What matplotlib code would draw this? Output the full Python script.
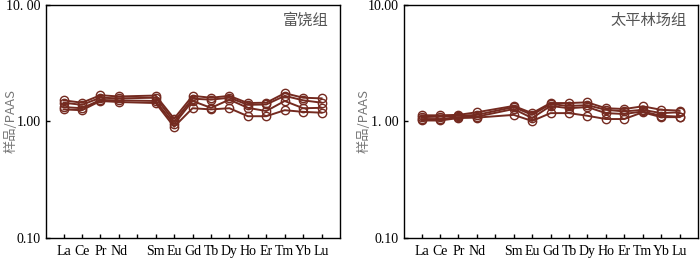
import matplotlib
matplotlib.use("Agg")
import matplotlib.pyplot as plt
import numpy as np

elements = ["La", "Ce", "Pr", "Nd", "Pm", "Sm", "Eu", "Gd", "Tb", "Dy", "Ho", "Er", "Tm", "Yb", "Lu"]
tick_labels = ["La", "Ce", "Pr", "Nd", "", "Sm", "Eu", "Gd", "Tb", "Dy", "Ho", "Er", "Tm", "Yb", "Lu"]

# Values (Pm missing -> NaN), left panel: 富饶组
fr_s1 = [1.52, 1.45, 1.68, 1.64, np.nan, 1.67, 1.06, 1.66, 1.60, 1.66, 1.44, 1.45, 1.75, 1.60, 1.58]
fr_s2 = [1.45, 1.39, 1.60, 1.58, np.nan, 1.60, 1.00, 1.57, 1.54, 1.60, 1.39, 1.40, 1.66, 1.52, 1.45]
fr_s3 = [1.33, 1.30, 1.53, 1.52, np.nan, 1.50, 0.95, 1.50, 1.31, 1.54, 1.31, 1.23, 1.50, 1.30, 1.31]
fr_s4 = [1.27, 1.25, 1.50, 1.47, np.nan, 1.44, 0.90, 1.30, 1.27, 1.30, 1.11, 1.11, 1.25, 1.21, 1.19]

# right panel: 太平林场组
tp_s1 = [1.13, 1.13, 1.14, 1.20, np.nan, 1.36, 1.18, 1.44, 1.44, 1.46, 1.30, 1.28, 1.35, 1.26, 1.24]
tp_s2 = [1.09, 1.10, 1.12, 1.14, np.nan, 1.33, 1.14, 1.41, 1.36, 1.38, 1.26, 1.22, 1.26, 1.18, 1.20]
tp_s3 = [1.05, 1.05, 1.09, 1.10, np.nan, 1.28, 1.07, 1.36, 1.30, 1.33, 1.18, 1.16, 1.22, 1.12, 1.10]
tp_s4 = [1.02, 1.02, 1.07, 1.08, np.nan, 1.14, 1.01, 1.18, 1.18, 1.12, 1.05, 1.05, 1.20, 1.09, 1.09]

panels = [
    ("富饶组", [fr_s1, fr_s2, fr_s3, fr_s4], ["0.10", "1.00", "10. 00"], -0.097),
    ("太平林场组", [tp_s1, tp_s2, tp_s3, tp_s4], ["0.10", "1. 00", "10.00"], -0.115),
]

color = "#742a20"
serif = ["Liberation Serif", "DejaVu Serif"]
cjk = ["Noto Sans CJK SC", "DejaVu Sans"]

fig = plt.figure(figsize=(7.0, 2.58), dpi=100)
rects = [
    [46 / 700, 1 - 238 / 258, (340 - 46) / 700, (238 - 5) / 258],
    [404 / 700, 1 - 238 / 258, (698 - 404) / 700, (238 - 5) / 258],
]

x = np.arange(1, len(elements) + 1)
for rect, (title, series, ylabels, lblx) in zip(rects, panels):
    ax = fig.add_axes(rect)
    for s in series:
        arr = np.array(s, dtype=float)
        mask = ~np.isnan(arr)
        ax.plot(x[mask], arr[mask], color=color, lw=1.4, marker="o",
                markersize=6, markerfacecolor="none", markeredgecolor=color,
                markeredgewidth=1.0)
    ax.set_yscale("log")
    ax.set_ylim(0.1, 10)
    ax.set_xlim(0.05, 16)
    ax.set_yticks([0.1, 1, 10])
    ax.set_yticklabels(ylabels, fontfamily=serif, fontsize=10)
    ax.yaxis.set_minor_locator(matplotlib.ticker.NullLocator())
    ax.set_xticks(x)
    ax.set_xticklabels(tick_labels, fontfamily=serif, fontsize=10)
    ax.tick_params(direction="in", length=3, width=1.0, color="black", pad=4)
    ax.tick_params(axis="x", pad=5)
    for sp in ax.spines.values():
        sp.set_linewidth(1.0)
    ax.set_ylabel("样品/PAAS", family=cjk, fontsize=9.5, color="#777777")
    ax.yaxis.set_label_coords(lblx, 0.5)
    ax.text(0.96, 0.935, title, transform=ax.transAxes, ha="right", va="center",
            family=cjk, fontsize=11, color="#555555")

fig.savefig("out.png", dpi=100)
